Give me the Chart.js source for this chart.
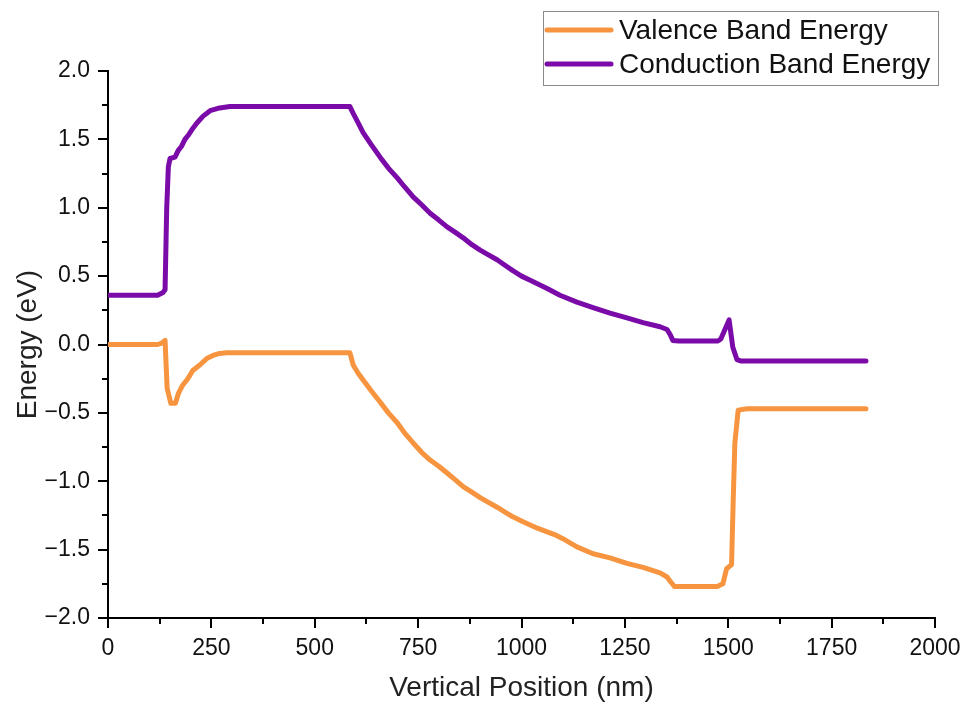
<!DOCTYPE html>
<html lang="en">
<head>
    <meta charset="UTF-8">
    <title>Band Energy</title>
    <script src="https://cdn.jsdelivr.net/npm/chart.js"></script>
    <style>
        html, body { margin: 0; padding: 0; background: #fff; }
    </style>
</head>
<body>
    <canvas id="bandChart" width="965" height="705"></canvas>

    <script>
        // Valence band (nm, eV)
        const valencePos = [0, 120, 130, 138, 143, 152, 163, 170, 180, 193, 205, 222, 240, 254, 270, 287,
            585, 593, 605, 617, 637, 658, 678, 699, 718, 738, 759, 779, 800, 820, 840, 859, 880, 900, 920,
            941, 960, 979, 1000, 1021, 1040, 1062, 1080, 1100, 1134, 1173, 1214, 1255, 1294, 1335, 1352,
            1362, 1370, 1473, 1487, 1496, 1508, 1512, 1516, 1524, 1545, 1833];
        const valenceEnergy = [0.00, 0.00, 0.01, 0.03, -0.32, -0.43, -0.43, -0.36, -0.30, -0.25, -0.19, -0.15,
            -0.10, -0.08, -0.065, -0.06,
            -0.06, -0.15, -0.21, -0.26, -0.34, -0.42, -0.50, -0.57, -0.65, -0.72, -0.79, -0.845, -0.89, -0.94,
            -0.99, -1.04, -1.08, -1.12, -1.155, -1.19, -1.225, -1.26, -1.29, -1.32, -1.345, -1.37, -1.39,
            -1.42, -1.48, -1.53, -1.56, -1.60, -1.63, -1.67, -1.70,
            -1.74, -1.77, -1.77, -1.75, -1.64, -1.61, -1.14, -0.72, -0.48, -0.47, -0.47];

        // Conduction band (nm, eV)
        const conductionPos = [0, 120, 133, 138, 142, 146, 150, 162, 170, 178, 186, 194, 205, 215, 230, 247,
            270, 295, 585, 593, 605, 617, 637, 658, 678, 699, 718, 738, 759, 779, 800, 820, 840, 859, 880,
            900, 920, 941, 960, 979, 1000, 1021, 1062, 1093, 1134, 1173, 1214, 1255, 1294, 1335, 1352, 1360,
            1366, 1380, 1475, 1482, 1492, 1502, 1511, 1521, 1530, 1833];
        const conductionEnergy = [0.36, 0.36, 0.38, 0.40, 1.00, 1.30, 1.36, 1.37, 1.42, 1.45, 1.50, 1.53, 1.58,
            1.62, 1.67, 1.71, 1.73, 1.74, 1.74, 1.69, 1.62, 1.55, 1.46, 1.37, 1.29, 1.22, 1.15, 1.08, 1.02,
            0.96, 0.91, 0.86, 0.82, 0.78, 0.73, 0.69, 0.655, 0.62, 0.58, 0.54, 0.50, 0.47, 0.41, 0.36, 0.31,
            0.27, 0.23, 0.195, 0.16, 0.13, 0.11, 0.07, 0.03, 0.025, 0.025, 0.04, 0.11, 0.18, -0.02, -0.11,
            -0.12, -0.12];

        const seriesNames = ['Valence Band Energy', 'Conduction Band Energy'];
        const seriesColors = ['#F7943F', '#7B0BA8'];

        const xMinorTicks = [125, 375, 625, 875, 1125, 1375, 1625, 1875];
        const yMinorTicks = [1.75, 1.25, 0.75, 0.25, -0.25, -0.75, -1.25, -1.75];

        const FONT = "'Liberation Sans', Arial, sans-serif";

        function toPoints(xs, ys) {
            return xs.map((x, i) => ({ x: x, y: ys[i] }));
        }

        // minor ticks and the boxed legend in the top right
        const extras = {
            id: 'extras',
            afterDraw(chart) {
                const ctx = chart.ctx;
                const area = chart.chartArea;
                const xs = chart.scales.x, ys = chart.scales.y;
                ctx.save();
                ctx.strokeStyle = '#000';
                ctx.lineWidth = 2;
                ctx.beginPath();
                xMinorTicks.forEach(v => {
                    const px = Math.round(xs.getPixelForValue(v));
                    ctx.moveTo(px, area.bottom);
                    ctx.lineTo(px, area.bottom + 6);
                });
                yMinorTicks.forEach(v => {
                    const py = Math.round(ys.getPixelForValue(v));
                    ctx.moveTo(area.left, py);
                    ctx.lineTo(area.left - 6, py);
                });
                ctx.stroke();

                // legend
                ctx.lineWidth = 1;
                ctx.strokeStyle = '#8a8a8a';
                ctx.fillStyle = '#fff';
                ctx.fillRect(543, 11, 395, 74);
                ctx.strokeRect(543.5, 11.5, 395, 74);
                ctx.font = '28px ' + FONT;
                ctx.textBaseline = 'middle';
                chart.data.datasets.forEach((ds, i) => {
                    const yy = 30 + i * 34;
                    ctx.strokeStyle = ds.borderColor;
                    ctx.lineWidth = 5;
                    ctx.lineCap = 'round';
                    ctx.beginPath();
                    ctx.moveTo(547, yy);
                    ctx.lineTo(611, yy);
                    ctx.stroke();
                    ctx.fillStyle = '#111';
                    ctx.fillText(ds.label, 619, yy + 1);
                });
                ctx.restore();
            }
        };

        const tickText = v => String(v).replace('-', '\u2212');

        new Chart(document.getElementById('bandChart'), {
            type: 'line',
            data: {
                datasets: [
                    {
                        label: seriesNames[0],
                        data: toPoints(valencePos, valenceEnergy),
                        borderColor: seriesColors[0],
                        borderWidth: 5,
                        pointRadius: 0,
                        tension: 0,
                        fill: false,
                        borderJoinStyle: 'round',
                        borderCapStyle: 'round'
                    },
                    {
                        label: seriesNames[1],
                        data: toPoints(conductionPos, conductionEnergy),
                        borderColor: seriesColors[1],
                        borderWidth: 5,
                        pointRadius: 0,
                        tension: 0,
                        fill: false,
                        borderJoinStyle: 'round',
                        borderCapStyle: 'round'
                    }
                ]
            },
            options: {
                responsive: false,
                animation: false,
                layout: { padding: { left: 0, right: 30, top: 71, bottom: 0 } },
                plugins: {
                    legend: { display: false },
                    tooltip: { enabled: false }
                },
                scales: {
                    x: {
                        type: 'linear',
                        min: 0,
                        max: 2000,
                        afterFit: s => { s.height = 87; s.paddingLeft = 0; s.paddingRight = 0; },
                        border: { display: true, color: '#000', width: 2 },
                        grid: { drawOnChartArea: false, drawTicks: true, tickLength: 10, color: '#000', lineWidth: 2 },
                        ticks: {
                            stepSize: 250,
                            padding: 7,
                            color: '#111',
                            maxRotation: 0,
                            font: { family: FONT, size: 23 },
                            callback: v => tickText(v)
                        },
                        title: {
                            display: true,
                            text: 'Vertical Position (nm)',
                            color: '#222',
                            font: { family: FONT, size: 28 },
                            padding: { top: 0, bottom: 0 }
                        }
                    },
                    y: {
                        min: -2,
                        max: 2,
                        afterFit: s => { s.width = 108; s.paddingTop = 0; s.paddingBottom = 0; },
                        border: { display: true, color: '#000', width: 2 },
                        grid: { drawOnChartArea: false, drawTicks: true, tickLength: 10, color: '#000', lineWidth: 2 },
                        ticks: {
                            stepSize: 0.5,
                            padding: 8,
                            color: '#111',
                            font: { family: FONT, size: 23 },
                            callback: v => tickText(v.toFixed(1))
                        },
                        title: {
                            display: true,
                            text: 'Energy (eV)',
                            color: '#222',
                            font: { family: FONT, size: 28 },
                            padding: { top: 11, bottom: 0 }
                        }
                    }
                }
            },
            plugins: [extras]
        });
    </script>
</body>
</html>
